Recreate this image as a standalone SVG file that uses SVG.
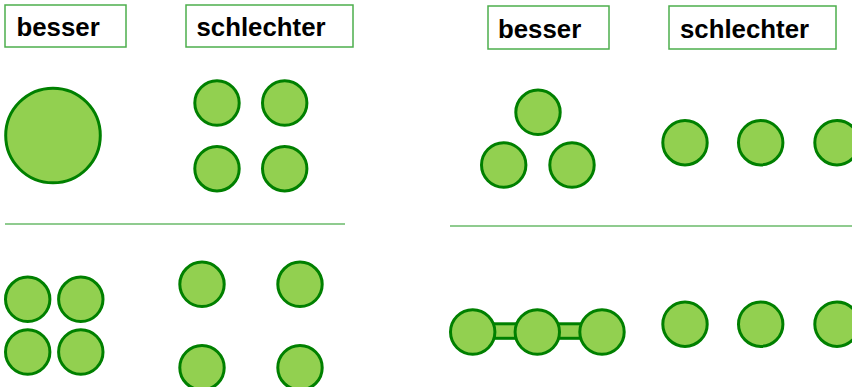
<svg xmlns="http://www.w3.org/2000/svg" width="852" height="387" viewBox="0 0 852 387">
<style>
.box{fill:#fff;stroke:#4cae4c;stroke-width:1.5}
.lbl{font-family:"Liberation Sans",Arial,sans-serif;font-weight:bold;font-size:25.8px;fill:#000}
.c{fill:#92d050;stroke:#008000;stroke-width:3}
.sep{stroke:#6aba6a;stroke-width:1.5}
</style>
<rect width="852" height="387" fill="#fff"/>
<g id="label-besser-left"><rect class="box" x="5" y="5" width="121" height="42"/><text class="lbl" x="16.5" y="36">besser</text></g>
<g id="label-schlechter-left"><rect class="box" x="186" y="5" width="167" height="42"/><text class="lbl" x="196.5" y="36">schlechter</text></g>
<g id="label-besser-right"><rect class="box" x="488" y="6" width="121" height="43"/><text class="lbl" x="498" y="38">besser</text></g>
<g id="label-schlechter-right"><rect class="box" x="669" y="6" width="167" height="43"/><text class="lbl" x="680" y="38">schlechter</text></g>
<g id="separators">
<line class="sep" x1="5" y1="224" x2="345" y2="224"/>
<line class="sep" x1="450" y1="226" x2="852" y2="226"/>
</g>
<g id="big-circle"><circle class="c" cx="53" cy="135.5" r="47.3"/></g>
<g id="four-grid-top">
<circle class="c" cx="217" cy="103" r="22.2"/>
<circle class="c" cx="284.7" cy="103" r="22.2"/>
<circle class="c" cx="217" cy="168.7" r="22.2"/>
<circle class="c" cx="284.7" cy="168.7" r="22.2"/>
</g>
<g id="four-tight">
<circle class="c" cx="27.7" cy="299.3" r="22.2"/>
<circle class="c" cx="80.8" cy="299.3" r="22.2"/>
<circle class="c" cx="27.7" cy="352" r="22.2"/>
<circle class="c" cx="80.8" cy="352" r="22.2"/>
</g>
<g id="four-spread">
<circle class="c" cx="202" cy="284.3" r="22.2"/>
<circle class="c" cx="300" cy="284.3" r="22.2"/>
<circle class="c" cx="202" cy="367.7" r="22.2"/>
<circle class="c" cx="300" cy="367.7" r="22.2"/>
</g>
<g id="triangle">
<circle class="c" cx="538" cy="112.3" r="22.2"/>
<circle class="c" cx="503.7" cy="165" r="22.2"/>
<circle class="c" cx="572" cy="165" r="22.2"/>
</g>
<g id="row-top">
<circle class="c" cx="685" cy="142.7" r="22.2"/>
<circle class="c" cx="760.7" cy="142.7" r="22.2"/>
<circle class="c" cx="837" cy="142.7" r="22.2"/>
</g>
<g id="chain">
<rect class="c" x="472.7" y="323.8" width="129.3" height="14.5"/>
<circle class="c" cx="472.7" cy="332" r="22.2"/>
<circle class="c" cx="537.3" cy="332" r="22.2"/>
<circle class="c" cx="602" cy="332" r="22.2"/>
</g>
<g id="row-bottom">
<circle class="c" cx="685" cy="324.2" r="22.2"/>
<circle class="c" cx="760.7" cy="324.2" r="22.2"/>
<circle class="c" cx="837" cy="324.2" r="22.2"/>
</g>
</svg>
